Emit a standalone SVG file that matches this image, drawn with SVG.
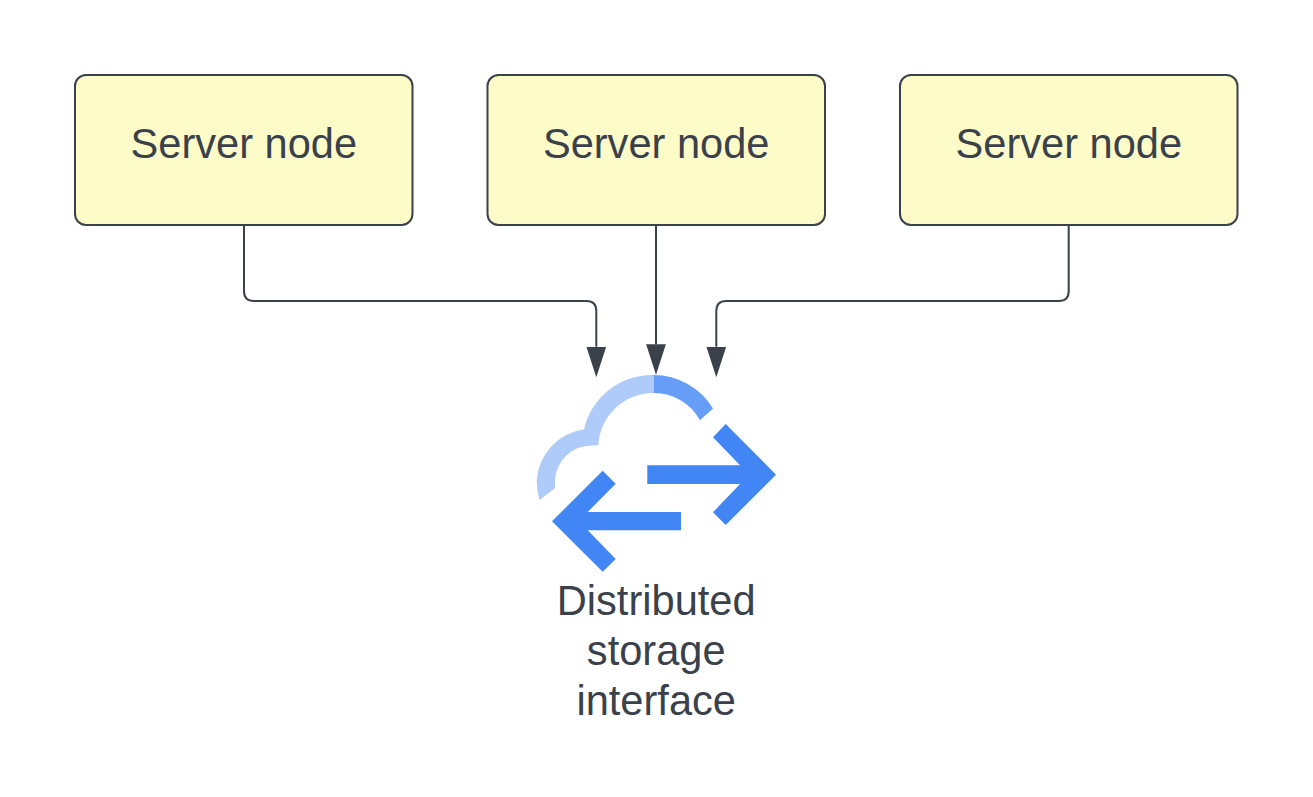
<svg xmlns="http://www.w3.org/2000/svg" width="1313" height="797" viewBox="0 0 1313 797">
<style>
.box{fill:#fdfbc8;stroke:#3a414a;stroke-width:2}
.lbl{font-family:"Liberation Sans",Arial,sans-serif;font-size:41.6px;fill:#3a414a;text-anchor:middle}
.wire{fill:none;stroke:#3a414a;stroke-width:2;marker-end:url(#head)}
</style>
<defs>
<marker id="head" markerUnits="userSpaceOnUse" markerWidth="31" markerHeight="20" refX="0" refY="10" orient="auto" viewBox="0 0 31 20">
<path d="M0 0.1L30.5 10L0 19.9Z" fill="#3a414a"/>
</marker>
</defs>
<rect width="1313" height="797" fill="#ffffff"/>
<g id="connectors">
<path class="wire" d="M244 225V291Q244 301 254 301H586.3Q596.3 301 596.3 311V346.7"/>
<path class="wire" d="M656 225V344.2"/>
<path class="wire" d="M1068.7 225V291Q1068.7 301 1058.7 301H726.3Q716.3 301 716.3 311V346.7"/>
</g>
<g id="node-1">
<rect class="box" x="75" y="75" width="337.5" height="150" rx="11"/>
<text class="lbl" x="243.8" y="157.5">Server node</text>
</g>
<g id="node-2">
<rect class="box" x="487.5" y="75" width="337.5" height="150" rx="11"/>
<text class="lbl" x="656.2" y="157.5">Server node</text>
</g>
<g id="node-3">
<rect class="box" x="900" y="75" width="337.5" height="150" rx="11"/>
<text class="lbl" x="1068.8" y="157.5">Server node</text>
</g>
<g id="storage">
<path fill="#aecbfa" d="M653.7 375A70 70 0 0 0 584 429.3A55 55 0 0 0 536.7 481Q536.7 491 539.5 500L555 488Q555 484 555 481A36.5 36.5 0 0 1 591.7 445.5L598.3 445.3A55 55 0 0 1 653.7 393Z"/>
<path fill="#669df6" d="M653.7 375A70 70 0 0 1 713 408.5L700 420.3A52.5 52.5 0 0 0 653.7 393Z"/>
<path fill="#4285f4" d="M647.3 465.3H740L713 437.3L725.7 424L776 474.7L725.7 525L713 512.3L740 484H647.3Z"/>
<path fill="#4285f4" d="M681 512H587.7L615.7 483.7L602.7 470.7L552 521.3L602.7 571.7L615.7 559L587.7 530.3H681Z"/>
<text class="lbl" x="656.2" y="615">Distributed</text>
<text class="lbl" x="656.2" y="665">storage</text>
<text class="lbl" x="656.2" y="715">interface</text>
</g>
</svg>
